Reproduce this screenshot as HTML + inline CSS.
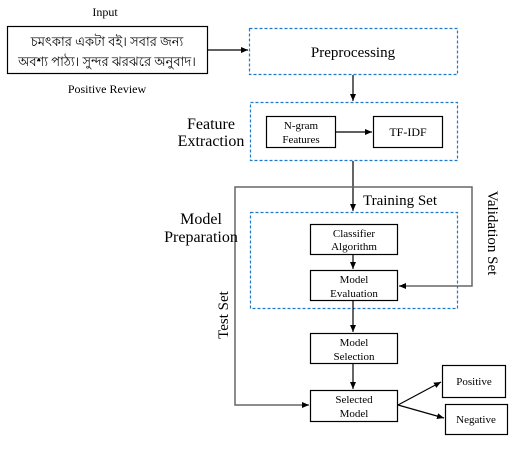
<!DOCTYPE html>
<html><head><style>body{margin:0;background:#fff}</style></head><body>
<svg width="517" height="444" xmlns="http://www.w3.org/2000/svg" font-family="Liberation Serif, serif">
<defs><marker id="a" markerWidth="8" markerHeight="8" refX="7" refY="4" orient="auto" markerUnits="userSpaceOnUse"><path d="M0,1 L7,4 L0,7z" fill="#000"/></marker></defs>
<g fill="none" stroke="#000" stroke-width="1.2">
<text x="105" y="16" font-size="12" text-anchor="middle" fill="#000" stroke="none">Input</text>
<rect x="7.5" y="26.5" width="200" height="47"/>
<text x="107" y="46" font-size="13" text-anchor="middle" fill="#000" stroke="none" font-family="Liberation Serif, 'Noto Sans CJK SC', sans-serif">চমৎকার একটা বই। সবার জন্য</text>
<text x="107" y="66" font-size="13" text-anchor="middle" fill="#000" stroke="none" font-family="Liberation Serif, 'Noto Sans CJK SC', sans-serif">অবশ্য পাঠ্য। সুন্দর ঝরঝরে অনুবাদ।</text>
<text x="107" y="93" font-size="12" text-anchor="middle" fill="#000" stroke="none">Positive Review</text>
<line x1="208" y1="50" x2="248" y2="50" marker-end="url(#a)"/>
<g stroke="#1f78c8" stroke-dasharray="3,2"><rect x="249.5" y="28.5" width="208" height="46"/><rect x="250.5" y="102.5" width="207" height="58"/><rect x="250.5" y="212.5" width="207" height="96"/></g>
<text x="353" y="57" font-size="15" text-anchor="middle" fill="#000" stroke="none">Preprocessing</text>
<line x1="353" y1="75" x2="353" y2="101" marker-end="url(#a)"/>
<text x="211" y="129" font-size="16" text-anchor="middle" fill="#000" stroke="none">Feature</text>
<text x="211" y="146" font-size="16" text-anchor="middle" fill="#000" stroke="none">Extraction</text>
<rect x="266.5" y="116.5" width="69" height="31"/>
<text x="301" y="129" font-size="11" text-anchor="middle" fill="#000" stroke="none">N-gram</text>
<text x="301" y="143" font-size="11" text-anchor="middle" fill="#000" stroke="none">Features</text>
<line x1="336" y1="132" x2="372" y2="132" marker-end="url(#a)"/>
<rect x="373.5" y="116.5" width="69" height="31"/>
<text x="408" y="136" font-size="12" text-anchor="middle" fill="#000" stroke="none">TF-IDF</text>
<line x1="353" y1="161" x2="353" y2="211" marker-end="url(#a)"/>
<path d="M353,187 H235 V405 H309" stroke="#666" stroke-width="1.5" marker-end="url(#a)"/>
<path d="M353,187 H472 V286 H399" stroke="#666" stroke-width="1.5" marker-end="url(#a)"/>
<text x="400" y="205" font-size="15" text-anchor="middle" fill="#000" stroke="none">Training Set</text>
<text x="201" y="224" font-size="16" text-anchor="middle" fill="#000" stroke="none">Model</text>
<text x="201" y="242" font-size="16" text-anchor="middle" fill="#000" stroke="none">Preparation</text>
<text transform="translate(488,233) rotate(90)" font-size="15" text-anchor="middle" fill="#000" stroke="none">Validation Set</text>
<text transform="translate(228,315) rotate(-90)" font-size="15" text-anchor="middle" fill="#000" stroke="none">Test Set</text>
<rect x="310.5" y="224.5" width="87" height="30"/>
<text x="354" y="237" font-size="11" text-anchor="middle" fill="#000" stroke="none">Classifier</text>
<text x="354" y="250" font-size="11" text-anchor="middle" fill="#000" stroke="none">Algorithm</text>
<line x1="353" y1="255" x2="353" y2="269" marker-end="url(#a)"/>
<rect x="310.5" y="270.5" width="87" height="30"/>
<text x="354" y="283" font-size="11" text-anchor="middle" fill="#000" stroke="none">Model</text>
<text x="354" y="297" font-size="11" text-anchor="middle" fill="#000" stroke="none">Evaluation</text>
<line x1="353" y1="301" x2="353" y2="332" marker-end="url(#a)"/>
<rect x="310.5" y="333.5" width="87" height="30"/>
<text x="354" y="346" font-size="11" text-anchor="middle" fill="#000" stroke="none">Model</text>
<text x="354" y="360" font-size="11" text-anchor="middle" fill="#000" stroke="none">Selection</text>
<line x1="353" y1="364" x2="353" y2="389" marker-end="url(#a)"/>
<rect x="310.5" y="390.5" width="87" height="31"/>
<text x="354" y="403" font-size="11" text-anchor="middle" fill="#000" stroke="none">Selected</text>
<text x="354" y="417" font-size="11" text-anchor="middle" fill="#000" stroke="none">Model</text>
<line x1="398" y1="405" x2="441" y2="382" marker-end="url(#a)"/>
<line x1="398" y1="405" x2="444" y2="418" marker-end="url(#a)"/>
<rect x="442.5" y="365.5" width="63" height="32"/>
<text x="474" y="385" font-size="11" text-anchor="middle" fill="#000" stroke="none">Positive</text>
<rect x="445.5" y="404.5" width="62" height="30"/>
<text x="476" y="423" font-size="11" text-anchor="middle" fill="#000" stroke="none">Negative</text>
</g>
</svg>
</body></html>
